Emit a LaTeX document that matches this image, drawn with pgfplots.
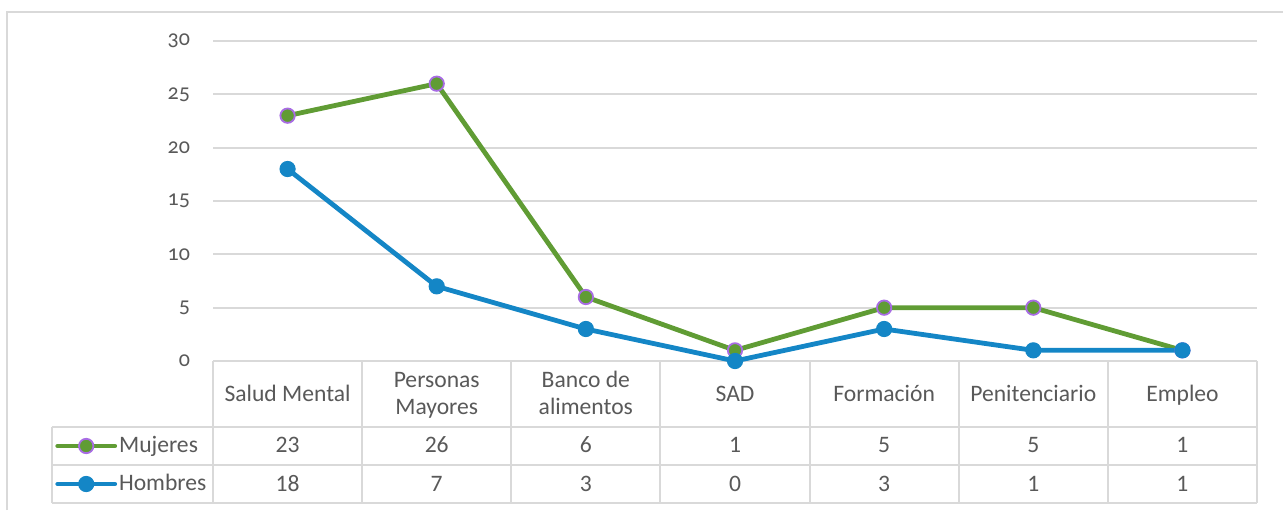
\documentclass[border=0pt]{standalone}
\usepackage{pgfplots}
\pgfplotsset{compat=1.18}
\usepackage{fontspec}
\setmainfont{Carlito}
\newfontfamily\oldnum[Numbers=OldStyle]{Carlito}
\definecolor{mgreen}{RGB}{96,156,52}
\definecolor{hblue}{RGB}{20,134,198}
\definecolor{mpurple}{RGB}{168,108,228}
\definecolor{gridgray}{RGB}{217,217,217}
\definecolor{txtgray}{RGB}{89,89,89}
\begin{document}
\begin{tikzpicture}[x=1pt,y=1pt]
\useasboundingbox (0,0) rectangle (641.5,255);
\draw[gridgray, line width=1pt] (3.5,0) -- (3.5,249) -- (641.5,249);
\begin{axis}[
  at={(106.5pt,74.5pt)}, anchor=south west,
  scale only axis, width=522pt, height=160pt,
  xmin=-0.5, xmax=6.5, ymin=0, ymax=30,
  xtick=\empty, ytick={0,5,...,30},
  ymajorgrids, grid style={gridgray, line width=1pt},
  axis line style={draw=none},
  major tick length=0pt,
  /pgf/number format/assume math mode=true,
  yticklabel style={font=\oldnum\fontsize{11}{13}\selectfont, text=txtgray, xshift=-8pt},
  clip=false,
  legend style={at={(axis cs:-1.56,-9.75)}, anchor=west, draw=none, fill=none,
    inner sep=0pt, row sep=7pt, font=\fontsize{11.8}{14}\selectfont, text=txtgray,
    nodes={inner sep=1pt, text height=8pt, text depth=2pt}},
  legend cell align=left,
  legend image code/.code={\draw[mark repeat=2, mark phase=2, line cap=round, #1] plot coordinates {(0pt,0pt) (14.25pt,0pt) (28.5pt,0pt)};},
]
\addplot[mgreen, line width=2.4pt, line join=round, mark=*, mark size=3.6pt,
  mark options={fill=mgreen, draw=mpurple, line width=0.9pt}]
  coordinates {(0,23)(1,26)(2,6)(3,1)(4,5)(5,5)(6,1)};
\addlegendentry{Mujeres}
\addplot[hblue, line width=2.4pt, line join=round, mark=*, mark size=3.8pt,
  mark options={fill=hblue, draw=hblue, line width=0.5pt}]
  coordinates {(0,18)(1,7)(2,3)(3,0)(4,3)(5,1)(6,1)};
\addlegendentry{Hombres}
% data table grid
\draw[gridgray, line width=1pt] (axis cs:-1.58,-6.19) -- (axis cs:6.5,-6.19);
\draw[gridgray, line width=1pt] (axis cs:-1.58,-9.75) -- (axis cs:6.5,-9.75);
\draw[gridgray, line width=1pt] (axis cs:-1.58,-13.31) -- (axis cs:6.5,-13.31);
\draw[gridgray, line width=1pt] (axis cs:-1.58,-6.19) -- (axis cs:-1.58,-13.31);
\pgfplotsinvokeforeach{-0.5,0.5,1.5,2.5,3.5,4.5,5.5,6.5}{
  \draw[gridgray, line width=1pt] (axis cs:#1,0) -- (axis cs:#1,-13.31);
}
\begin{scope}[every node/.style={text=txtgray, anchor=base, inner sep=0pt, font=\fontsize{11.8}{14}\selectfont}]
\node at (axis cs:0,-3.75) {Salud Mental};
\node at (axis cs:1,-2.44) {Personas};
\node at (axis cs:1,-5.06) {Mayores};
\node at (axis cs:2,-2.44) {Banco de};
\node at (axis cs:2,-5.06) {alimentos};
\node at (axis cs:3,-3.75) {SAD};
\node at (axis cs:4,-3.75) {Formación};
\node at (axis cs:5,-3.75) {Penitenciario};
\node at (axis cs:6,-3.75) {Empleo};
\node at (axis cs:0,-8.60) {23};
\node at (axis cs:1,-8.60) {26};
\node at (axis cs:2,-8.60) {6};
\node at (axis cs:3,-8.60) {1};
\node at (axis cs:4,-8.60) {5};
\node at (axis cs:5,-8.60) {5};
\node at (axis cs:6,-8.60) {1};
\node at (axis cs:0,-12.19) {18};
\node at (axis cs:1,-12.19) {7};
\node at (axis cs:2,-12.19) {3};
\node at (axis cs:3,-12.19) {0};
\node at (axis cs:4,-12.19) {3};
\node at (axis cs:5,-12.19) {1};
\node at (axis cs:6,-12.19) {1};
\end{scope}
\end{axis}
\end{tikzpicture}
\end{document}
